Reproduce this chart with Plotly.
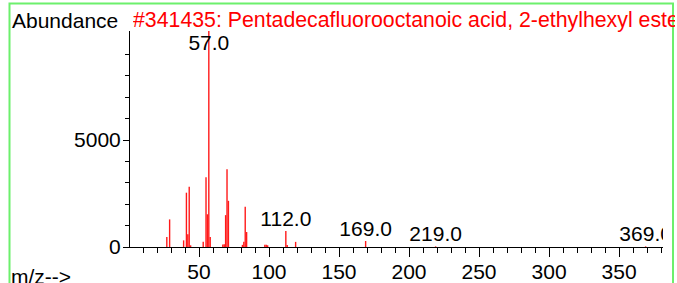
import plotly.graph_objects as go

# ---- data ----
mz = [27, 29, 39, 41, 42, 43, 44, 53, 55, 56, 57, 58, 67, 68, 69, 70, 71,
      81, 82, 83, 84, 97, 98, 99, 112, 113, 119, 169, 219, 369]
abundance = [470, 1290, 310, 2540, 600, 2820, 80, 240, 3260, 1530, 10100, 470, 120, 130,
             1490, 3630, 2160, 100, 240, 1880, 700, 100, 100, 80, 750, 90, 240, 280, 30, 30]
labeled_mz = [57, 112, 169, 219, 369]
title_text = "#341435: Pentadecafluorooctanoic acid, 2-ethylhexyl ester"
x_major_ticks = [50, 100, 150, 200, 250, 300, 350]
y_major_ticks = [0, 5000]
y_minor_ticks = [1000, 2000, 3000, 4000, 6000, 7000, 8000, 9000]

# ---- layout geometry (page pixels) ----
W, H = 677, 283
L, R, T, B = 130, 663, 31, 247          # plot area
X_RANGE = [0.7, 381.4]
Y_RANGE = [0, 10100]
FONT = "Arial, Liberation Sans, sans-serif"
FS = 21
FS_TITLE = 21.3


def px_x(p):
    return (p - L) / (R - L)


def px_y(p):
    return (B - p) / (B - T)


fig = go.Figure()
fig.add_trace(go.Bar(
    x=mz, y=abundance, width=1.0,
    marker=dict(color="rgba(255,0,0,0.9)", line_width=0),
    hoverinfo="skip",
))

lab_h = [abundance[mz.index(m)] for m in labeled_mz]
top_lim = Y_RANGE[1] * 0.985
lab_y = [min(v, top_lim) for v in lab_h]
lab_pos = ["bottom center" if v > 0.9 * Y_RANGE[1] else "top center" for v in lab_h]
fig.add_trace(go.Scatter(
    x=labeled_mz, y=lab_y, mode="text",
    text=[f"{m:.1f}" for m in labeled_mz],
    textposition=lab_pos,
    textfont=dict(family=FONT, size=FS, color="black"),
    cliponaxis=True, hoverinfo="skip",
))

fig.update_layout(
    width=W, height=H,
    margin=dict(l=L, r=W - R, t=T, b=H - B, pad=0, autoexpand=False),
    paper_bgcolor="white", plot_bgcolor="white",
    showlegend=False, hovermode=False,
    font=dict(family=FONT, size=FS, color="black"),
    xaxis=dict(
        range=X_RANGE, showgrid=False, zeroline=False, automargin=False,
        showline=True, linecolor="black", linewidth=1,
        tickmode="array", tickvals=x_major_ticks,
        ticks="outside", ticklen=9, tickcolor="black", tickwidth=1,
        tickfont=dict(size=FS), ticklabelstandoff=-3,
        minor=dict(dtick=10, tick0=0, ticks="outside", ticklen=5,
                   tickcolor="black", tickwidth=1, showgrid=False),
    ),
    yaxis=dict(
        range=Y_RANGE, showgrid=False, zeroline=False, automargin=False,
        showline=True, linecolor="black", linewidth=1,
        tickmode="array", tickvals=y_major_ticks,
        ticks="outside", ticklen=6, tickcolor="black", tickwidth=1,
        tickfont=dict(size=FS), ticklabelstandoff=-2,
        minor=dict(tickmode="array", tickvals=y_minor_ticks, ticks="outside",
                   ticklen=4, tickcolor="black", tickwidth=1, showgrid=False),
    ),
)

fig.add_annotation(
    text=title_text, xref="paper", yref="paper",
    x=px_x(131), y=px_y(20), xanchor="left", yanchor="middle",
    width=673 - 131, align="left", showarrow=False,
    font=dict(family=FONT, size=FS_TITLE, color="red"),
)
fig.add_annotation(
    text="Abundance", xref="paper", yref="paper",
    x=px_x(10), y=px_y(20), xanchor="left", yanchor="middle",
    showarrow=False, font=dict(family=FONT, size=FS, color="black"),
)
fig.add_annotation(
    text="m/z-->", xref="paper", yref="paper",
    x=px_x(9), y=px_y(276.5), xanchor="left", yanchor="middle",
    showarrow=False, font=dict(family=FONT, size=FS, color="black"),
)

fig.add_shape(
    type="rect", xref="paper", yref="paper",
    x0=px_x(9.5), x1=px_x(673), y0=px_y(320), y1=px_y(3.5),
    line=dict(color="#6cf06c", width=2), fillcolor="rgba(0,0,0,0)",
    layer="above",
)

fig.write_html(
    "out.html",
    config={"displayModeBar": False, "staticPlot": True},
    post_script="document.body.style.margin='0';document.body.style.overflow='hidden';",
)
